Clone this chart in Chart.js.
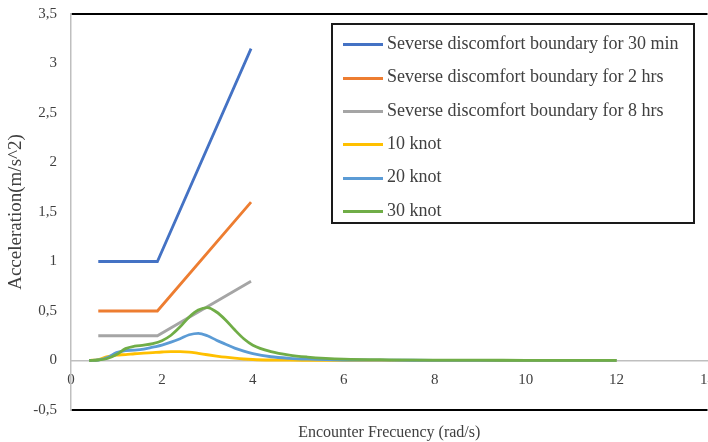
<!DOCTYPE html>
<html>
<head>
<meta charset="utf-8">
<script src="https://cdn.jsdelivr.net/npm/chart.js@4.4.1/dist/chart.umd.min.js"></script>
<style>
  html, body { margin: 0; padding: 0; overflow: hidden; background: #fff; }
  #wrap { position: relative; width: 726px; height: 442px; }
  #legend {
    position: absolute; left: 331px; top: 23px; width: 360px; height: 197px;
    border: 2px solid #1a1a1a; margin: 0; padding: 0; list-style: none;
    font-family: "Liberation Serif", "Times New Roman", serif; font-size: 18px; color: #404040;
  }
  #legend li { position: absolute; left: 10px; height: 20px; line-height: 20px; white-space: nowrap; }
  #legend .swatch { display: inline-block; width: 40px; height: 3px; vertical-align: middle; margin-right: 4px; }
</style>
</head>
<body>
<div id="wrap">
  <canvas id="chart"></canvas>
  <ul id="legend"></ul>
</div>
<script>
// boundary curves (ISO type limits)
const boundFreq = [0.6, 1.9, 3.96]
const bound30min = [1.0, 1.0, 3.15]
const bound2hrs = [0.5, 0.5, 1.6]
const bound8hrs = [0.25, 0.25, 0.8]

// response curves
const waveFreq = [0.4, 0.6, 0.8, 1.0, 1.2, 1.4, 1.6, 1.8, 2.0, 2.2, 2.4, 2.6, 2.8, 3.0, 3.2, 3.4, 3.6, 3.8, 4.0, 4.4, 4.8, 5.2, 5.6, 6.0, 7, 8, 9, 10, 11, 12]
const knot10 = [0, 0.01, 0.04, 0.055, 0.06, 0.068, 0.074, 0.08, 0.086, 0.09, 0.09, 0.085, 0.072, 0.058, 0.045, 0.033, 0.023, 0.015, 0.01, 0.005, 0.003, 0.002, 0.001, 0.001, 0.001, 0, 0, 0, 0, 0]
const knot20 = [0, 0.005, 0.03, 0.08, 0.1, 0.105, 0.115, 0.135, 0.155, 0.185, 0.22, 0.26, 0.275, 0.25, 0.205, 0.165, 0.125, 0.095, 0.07, 0.038, 0.022, 0.013, 0.008, 0.005, 0.003, 0.002, 0.001, 0.001, 0.001, 0.001]
const knot30 = [0, 0.005, 0.02, 0.06, 0.12, 0.145, 0.155, 0.17, 0.2, 0.255, 0.34, 0.44, 0.51, 0.535, 0.49, 0.41, 0.31, 0.22, 0.155, 0.09, 0.055, 0.035, 0.022, 0.014, 0.007, 0.004, 0.003, 0.002, 0.001, 0.001]

const seriesNames = ["Severse discomfort boundary for 30 min", "Severse discomfort boundary for 2 hrs", "Severse discomfort boundary for 8 hrs", "10 knot", "20 knot", "30 knot"]
const seriesColors = ["#4472C4", "#ED7D31", "#A5A5A5", "#FFC000", "#5B9BD5", "#70AD47"]
const yTicks = [-0.5, 0, 0.5, 1, 1.5, 2, 2.5, 3, 3.5]

function pairs(xs, ys) {
    return xs.map((x, i) => ({ x: x, y: ys[i] }))
}

const allSeries = [
    pairs(boundFreq, bound30min),
    pairs(boundFreq, bound2hrs),
    pairs(boundFreq, bound8hrs),
    pairs(waveFreq, knot10),
    pairs(waveFreq, knot20),
    pairs(waveFreq, knot30)
]

const datasets = allSeries.map((d, i) => ({
    label: seriesNames[i],
    data: d,
    borderColor: seriesColors[i],
    backgroundColor: seriesColors[i],
    borderWidth: 2.8,
    pointRadius: 0,
    cubicInterpolationMode: i < 3 ? 'default' : 'monotone',
    tension: 0,
    order: 6 - i
}))

const serif = "'Liberation Serif', 'Times New Roman', serif"

// keep the plot box where the picture has it
function noVerticalPadding(s) {
    s.paddingTop = 0
    s.paddingBottom = 0
}

new Chart(document.getElementById("chart"), {
    type: 'line',
    data: { datasets: datasets },
    options: {
        responsive: true,
        maintainAspectRatio: false,
        animation: false,
        layout: { padding: { top: 14, right: 8, bottom: 0, left: 0 } },
        plugins: { legend: { display: false }, tooltip: { enabled: false } },
        scales: {
            x: {
                type: 'linear',
                position: { y: 0 },
                min: 0, max: 14,
                afterFit: noVerticalPadding,
                grid: { display: false, drawTicks: false },
                border: { display: true, color: '#BFBFBF', width: 1.5 },
                ticks: { stepSize: 2, padding: 11, color: '#404040', font: { family: serif, size: 15 } }
            },
            xTitle: {
                type: 'linear',
                position: 'bottom',
                min: 0, max: 14,
                grid: { display: false },
                border: { display: false },
                ticks: { display: false },
                afterFit: s => { s.height = 32; noVerticalPadding(s) },
                title: { display: true, text: 'Encounter Frecuency (rad/s)', color: '#404040', padding: { top: 16, bottom: 0 }, font: { family: serif, size: 16 } }
            },
            y: {
                min: -0.5, max: 3.5,
                afterBuildTicks: axis => { axis.ticks = yTicks.map(v => ({ value: v })) },
                afterFit: s => { s.width = 71; noVerticalPadding(s) },
                grid: {
                    drawTicks: false,
                    color: c => (c.tick.value === 3.5 || c.tick.value === -0.5) ? '#000000' : 'rgba(0,0,0,0)',
                    lineWidth: 2
                },
                border: { display: true, color: '#BFBFBF', width: 1.5 },
                ticks: {
                    padding: 14, color: '#404040', font: { family: serif, size: 15 },
                    callback: v => String(v).replace('.', ',')
                },
                title: { display: true, text: 'Acceleration(m/s^2)', color: '#404040', padding: { top: 5, bottom: 0 }, font: { family: serif, size: 19 } }
            }
        }
    }
});

// legend box drawn as html, like the one in the picture
seriesNames.forEach((name, i) => {
    const li = document.createElement('li')
    li.style.top = (8 + i * 33.3) + 'px'
    li.innerHTML = "<span class='swatch' style='background-color:" + seriesColors[i] + "'></span>" + name
    document.getElementById('legend').appendChild(li)
})
</script>
</body>
</html>
